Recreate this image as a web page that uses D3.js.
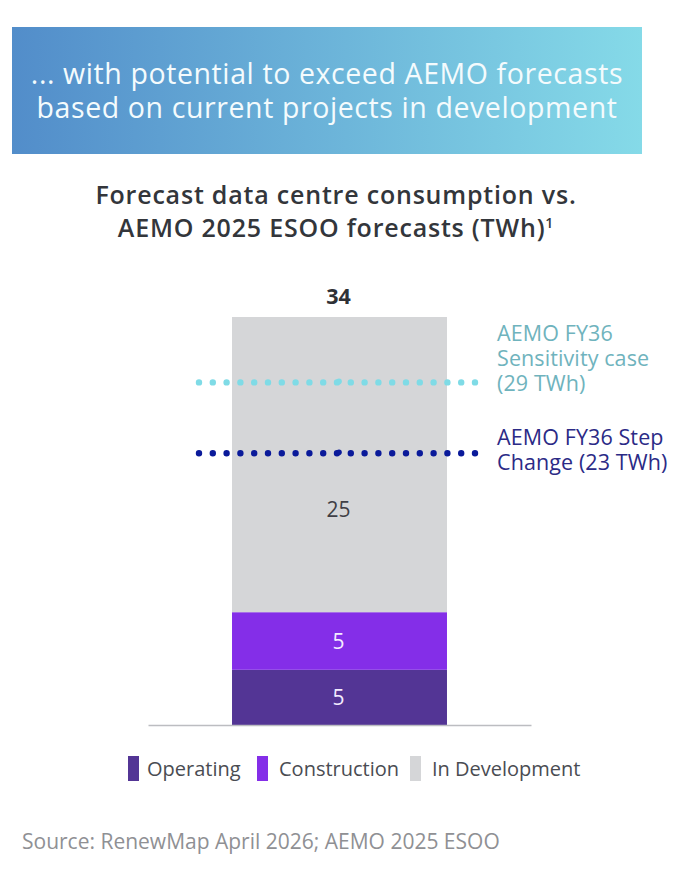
<!DOCTYPE html>
<html>
<head>
<meta charset="utf-8">
<script src="https://cdnjs.cloudflare.com/ajax/libs/d3/7.8.5/d3.min.js"></script>
<style>
html, body { margin: 0; padding: 0; background: #fff; }
svg { display: block; font-family: "Open Sans", sans-serif; }
</style>
</head>
<body>
<svg id="chart" width="700" height="888"></svg>
<script>
// values
var categories = ["FY36"];
var seriesNames = ["Operating", "Construction", "In Development"];
var seriesValues = [4.6, 4.8, 24.6];
var seriesColors = ["#533595", "#842ee8", "#d5d6d8"];
var labelColors = ["#f3ecff", "#f3ecff", "#3f3f46"];
var totalLabel = 34;

var refValues = [28.55, 22.65];
var refColors = ["#7fdbe6", "#0a1a9a"];
var refTextColors = ["#6fb3bd", "#2b2a86"];
var refLabels = [
    ["AEMO FY36", "Sensitivity case", "(29 TWh)"],
    ["AEMO FY36 Step", "Change (23 TWh)"]
];

var bannerLines = ["... with potential to exceed AEMO forecasts", "based on current projects in development"];
var titleLines = ["Forecast data centre consumption vs.", "AEMO 2025 ESOO forecasts (TWh)"];
var sourceText = "Source: RenewMap April 2026; AEMO 2025 ESOO";

var svg = d3.select("#chart");

// banner gradient
var grad = svg.append("defs").append("linearGradient").attr("id", "bannerGrad");
grad.append("stop").attr("offset", "0%").attr("stop-color", "#528dca");
grad.append("stop").attr("offset", "100%").attr("stop-color", "#85dae8");

svg.append("rect")
    .attr("x", 12).attr("y", 27)
    .attr("width", 630).attr("height", 127)
    .attr("fill", "url(#bannerGrad)");

svg.selectAll("text.banner")
    .data(bannerLines)
    .enter().append("text")
    .attr("class", "banner")
    .attr("x", 327)
    .attr("y", function(d, i) { return 84 + i * 34; })
    .attr("text-anchor", "middle")
    .attr("fill", "#f4fbfd")
    .attr("font-size", 28.5)
    .attr("font-weight", 500)
    .attr("letter-spacing", 0.6)
    .text(function(d) { return d; });

// chart title
var title = svg.selectAll("text.title")
    .data(titleLines)
    .enter().append("text")
    .attr("class", "title")
    .attr("x", 336)
    .attr("y", function(d, i) { return 204 + i * 33; })
    .attr("text-anchor", "middle")
    .attr("fill", "#33363b")
    .attr("font-size", 25)
    .attr("letter-spacing", 0.8)
    .attr("font-weight", 600)
    .text(function(d) { return d; });

title.filter(function(d, i) { return i === 1; })
    .append("tspan")
    .attr("font-size", 14)
    .attr("dy", -9)
    .text("1");

// scales
var x = d3.scaleBand()
    .domain(categories)
    .range([148, 531])
    .padding(0.281);

var y = d3.scaleLinear()
    .domain([0, totalLabel])
    .range([725, 317]);

// stack the three segments
var stacked = d3.stack()
    .keys(seriesNames)([seriesNames.reduce(function(row, name, i) {
        row[name] = seriesValues[i];
        return row;
    }, {})]);

svg.selectAll("rect.seg")
    .data(stacked)
    .enter().append("rect")
    .attr("class", "seg")
    .attr("x", x(categories[0]))
    .attr("width", x.bandwidth())
    .attr("y", function(d) { return y(d[0][1]); })
    .attr("height", function(d) { return y(d[0][0]) - y(d[0][1]); })
    .attr("fill", function(d, i) { return seriesColors[i]; });

var cx = x(categories[0]) + x.bandwidth() / 2 - 1;

// the 25 sits below the middle of its segment, clear of the dotted lines
var labelShift = [1, 1, 45];

svg.selectAll("text.seg-label")
    .data(stacked)
    .enter().append("text")
    .attr("class", "seg-label")
    .attr("x", cx)
    .attr("y", function(d, i) { return (y(d[0][0]) + y(d[0][1])) / 2 + 7 + labelShift[i]; })
    .attr("text-anchor", "middle")
    .attr("font-size", 21)
    .attr("fill", function(d, i) { return labelColors[i]; })
    .text(function(d, i) { return d3.format(".0f")(seriesValues[i]); });

svg.append("text")
    .attr("x", cx)
    .attr("y", y(totalLabel) - 13)
    .attr("text-anchor", "middle")
    .attr("font-size", 21.5)
    .attr("font-weight", 700)
    .attr("fill", "#2f3136")
    .text(totalLabel);

// baseline
var axis = svg.append("g")
    .attr("transform", "translate(0," + y(0) + ")")
    .call(d3.axisBottom(x).tickSize(0).tickFormat(""));
axis.select(".domain").attr("stroke", "#bcbdc1").attr("stroke-width", 1.5);

// AEMO reference lines
svg.selectAll("line.ref")
    .data(refValues)
    .enter().append("line")
    .attr("class", "ref")
    .attr("x1", 199)
    .attr("x2", 480)
    .attr("y1", function(d) { return y(d); })
    .attr("y2", function(d) { return y(d); })
    .attr("stroke", function(d, i) { return refColors[i]; })
    .attr("stroke-width", 6.4)
    .attr("stroke-linecap", "round")
    .attr("stroke-dasharray", "0 13.8");

// the two line halves meet at the bar centre, leaving a slightly doubled dot
svg.selectAll("circle.ref-join")
    .data(refValues)
    .enter().append("circle")
    .attr("class", "ref-join")
    .attr("cx", cx + 0.5)
    .attr("cy", function(d) { return y(d) - 1; })
    .attr("r", 2.8)
    .attr("fill", function(d, i) { return refColors[i]; });

// multi-line labels as one text element with tspans
var refText = svg.selectAll("text.ref-label")
    .data(refLabels)
    .enter().append("text")
    .attr("class", "ref-label")
    .attr("y", function(d, i) { return [341, 445][i]; })
    .attr("fill", function(d, i) { return refTextColors[i]; })
    .attr("font-size", 21.5)
    .attr("letter-spacing", 0.1);

refText.selectAll("tspan")
    .data(function(d) { return d; })
    .enter().append("tspan")
    .attr("x", 497)
    .attr("dy", function(d, i) { return i === 0 ? 0 : 25; })
    .text(function(d) { return d; });

// legend
var legendX = [128, 257, 410];
var legendTextX = [147, 279, 432];

svg.selectAll("rect.key")
    .data(seriesNames)
    .enter().append("rect")
    .attr("class", "key")
    .attr("x", function(d, i) { return legendX[i]; })
    .attr("y", 756)
    .attr("width", 11)
    .attr("height", 25)
    .attr("fill", function(d, i) { return seriesColors[i]; });

svg.selectAll("text.key-label")
    .data(seriesNames)
    .enter().append("text")
    .attr("class", "key-label")
    .attr("x", function(d, i) { return legendTextX[i]; })
    .attr("y", 776)
    .attr("font-size", 20)
    .attr("fill", "#4a4c52")
    .text(function(d) { return d; });

// source
svg.append("text")
    .attr("x", 22)
    .attr("y", 849)
    .attr("font-size", 21)
    .attr("fill", "#8f9094")
    .text(sourceText);
</script>
</body>
</html>
